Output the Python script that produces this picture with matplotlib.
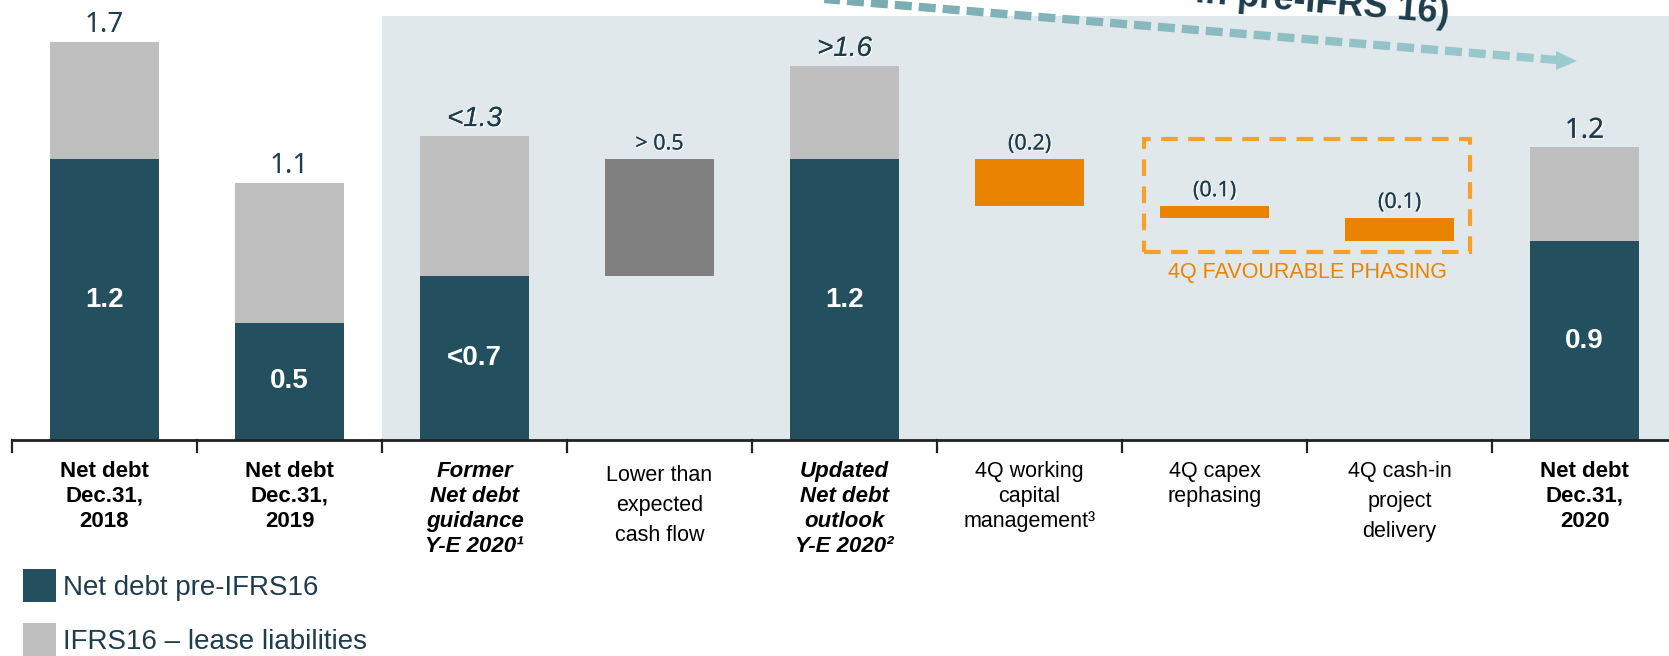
import numpy as np
import matplotlib
matplotlib.use("Agg")
import matplotlib.pyplot as plt
import matplotlib.patheffects as pe
from matplotlib.patches import Rectangle, Polygon
from matplotlib.collections import LineCollection

# data
categories = [
    "Net debt\nDec.31,\n2018",
    "Net debt\nDec.31,\n2019",
    "Former\nNet debt\nguidance\nY-E 2020\u00b9",
    "Lower than\nexpected\ncash flow",
    "Updated\nNet debt\noutlook\nY-E 2020\u00b2",
    "4Q working\ncapital\nmanagement\u00b3",
    "4Q capex\nrephasing",
    "4Q cash-in\nproject\ndelivery",
    "Net debt\nDec.31,\n2020",
]
net_pre_ifrs = [1.2, 0.5, 0.7, np.nan, 1.2, np.nan, np.nan, np.nan, 0.85]
lease_liab = [0.5, 0.6, 0.6, np.nan, 0.4, np.nan, np.nan, np.nan, 0.4]
bridge_idx = [3, 5, 6, 7]
bridge_steps = [0.5, -0.2, -0.05, -0.1]
top_labels = ["1.7", "1.1", "<1.3", "> 0.5", ">1.6", "(0.2)", "(0.1)", "(0.1)", "1.2"]
inner_labels = ["1.2", "0.5", "<0.7", "", "1.2", "", "", "", "0.9"]
legend_labels = ["Net debt pre-IFRS16", "IFRS16 \u2013 lease liabilities"]

DARK = "#234F5E"
LIGHT = "#BFBFBF"
MID = "#808080"
ORANGE = "#E98300"
BOX = "#F7A128"
SHADE = "#E1E8EC"
TXT = "#1E3D4B"

W, H = 1669, 656
fig = plt.figure(figsize=(W / 100, H / 100), dpi=100)
ax = fig.add_axes([0, 0, 1, 1])
ax.set_axis_off()

# pixel layout: category width 185px starting at x=12, 234px per unit, baseline at y=440
x0, cw, y0, ppu = 12, 185, 440, 234
ax.set_xlim((0 - x0) / cw - 0.5, (W - x0) / cw - 0.5)
ax.set_ylim((y0 - H) / ppu, y0 / ppu)
xmax = ax.get_xlim()[1]

x = np.arange(len(categories))
bw = 109 / cw

# shaded forecast area
ax.add_patch(Rectangle((1.5, 0), xmax - 1.5, (y0 - 16) / ppu, color=SHADE, zorder=0, lw=0))

# stacked bars
net = np.array(net_pre_ifrs)
lease = np.array(lease_liab)
ax.bar(x, net, bw, color=DARK, zorder=2)
ax.bar(x, lease, bw, bottom=net, color=LIGHT, zorder=2)

# bridge bars
tops = list(net + lease)
level = net_pre_ifrs[2]
for i, s in zip(bridge_idx, bridge_steps):
    ax.bar(i, s, bw, bottom=level, color=MID if s > 0 else ORANGE, zorder=2)
    tops[i] = max(level, level + s)
    level += s

# value labels
ghost = [pe.withSimplePatchShadow(offset=(1, -1), shadow_rgbFace="white", alpha=1), pe.Normal()]
for i, lab in enumerate(top_labels):
    if lab.startswith("<") or lab.startswith(">1"):
        kw = dict(family="Liberation Sans", style="italic", fontsize=20)
    elif lab.startswith("(") or lab.startswith("> "):
        kw = dict(family="Noto Sans", fontsize=15.5)
    else:
        kw = dict(family="Noto Sans", fontsize=20)
    if i >= 2:
        kw["path_effects"] = ghost
    ax.annotate(lab, (i, tops[i]), xytext=(0, 7), textcoords="offset points",
                ha="center", va="baseline", color=TXT, zorder=4, **kw)

for i, lab in enumerate(inner_labels):
    if lab:
        ax.text(i, net[i] / 2, lab, ha="center", va="center", color="white",
                family="Liberation Sans", weight="bold", fontsize=20, zorder=4)

# x axis line and ticks
ax.plot([-0.5, xmax], [0, 0], color="#222222", lw=2, zorder=3, solid_capstyle="butt")
for b in np.arange(-0.5, len(categories) - 0.5):
    ax.plot([b, b], [0, -12 / ppu], color="#222222", lw=1.6, zorder=3)

# category labels
for i, lab in enumerate(categories):
    if i in (0, 1, 8):
        kw = dict(weight="bold", fontsize=16)
    elif i in (2, 4):
        kw = dict(weight="bold", style="italic", fontsize=16)
    else:
        kw = dict(fontsize=15.5)
    ls = 1.55 if i in (3, 7) else 1.25
    ytop = (y0 - (465 if i == 3 else 461)) / ppu
    ax.text(i, ytop, lab, ha="center", va="top", family="Liberation Sans",
            linespacing=ls, color="black", **kw)

# favourable phasing box
ax.add_patch(Rectangle((5.62, 0.803), 7.38 - 5.62, 1.286 - 0.803, fill=False,
                       ec=BOX, lw=3, ls=(0, (4, 2.5)), zorder=3))
ax.text(6.5, (y0 - 273) / ppu, "4Q FAVOURABLE PHASING", ha="center", va="center",
        color=ORANGE, fontsize=15.5, family="Liberation Sans")

# overlay in pixel coordinates for arrow, title and legend
ov = fig.add_axes([0, 0, 1, 1], facecolor="none")
ov.set_xlim(0, W)
ov.set_ylim(H, 0)
ov.set_axis_off()

p0 = np.array([560.0, -23.0])
p1 = np.array([1557.0, 60.0])
d = p1 - p0
L = np.hypot(*d)
u = d / L
segs, cols = [], []
c_start = np.array(matplotlib.colors.to_rgb("#6B9FA6"))
c_end = np.array(matplotlib.colors.to_rgb("#9CCBCE"))
t = 0.0
while t < L:
    t2 = min(t + 17, L)
    segs.append([p0 + u * t, p0 + u * t2])
    f = t / L
    cols.append(c_start * (1 - f) + c_end * f)
    t += 24
ov.add_collection(LineCollection(segs, colors=cols, linewidths=6, capstyle="butt"))
ov.add_patch(Polygon([[1556, 51], [1577, 61], [1556, 70]], closed=True, color=c_end, lw=0))

# title sits mostly above the top edge, as in the source slide
ov.text(1448, 23, "in pre-IFRS 16)", ha="right", va="baseline", rotation=-4.8,
        rotation_mode="anchor", family="Liberation Sans", weight="bold",
        fontsize=26, color=TXT)

# legend
for k, (lab, col) in enumerate(zip(legend_labels, [DARK, LIGHT])):
    yy = 569 + k * 54
    ov.add_patch(Rectangle((23, yy), 33, 33, color=col, lw=0))
    ov.text(63, yy + 26, lab, ha="left", va="baseline", fontsize=20,
            family="Liberation Sans", color=TXT)

fig.savefig("out.png", dpi=100)
